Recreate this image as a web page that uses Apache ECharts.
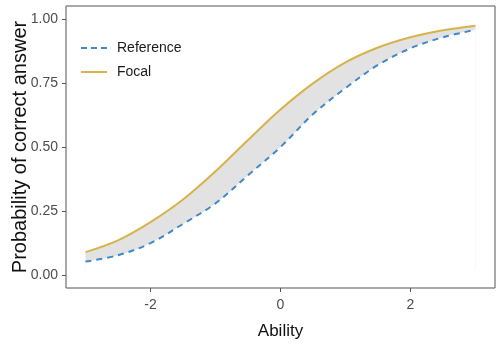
<!DOCTYPE html>
<html>
<head>
<meta charset="utf-8">
<script src="https://cdn.jsdelivr.net/npm/echarts@6/dist/echarts.min.js"></script>
<style>
  html, body { margin: 0; padding: 0; background: #fff; }
  #chart { width: 497px; height: 345px; }
</style>
</head>
<body>
<div id="chart"></div>
<script>
// ability grid and item response probabilities
const ability = [-3, -2.5, -2, -1.5, -1, -0.5, 0, 0.5, 1, 1.5, 2, 2.5, 3]
const referenceProb = [0.053, 0.078, 0.125, 0.2, 0.28, 0.39, 0.5, 0.628, 0.73, 0.82, 0.885, 0.928, 0.957]
const focalProb = [0.09, 0.136, 0.207, 0.295, 0.405, 0.527, 0.646, 0.748, 0.83, 0.888, 0.928, 0.955, 0.973]
const xTicks = [-2, 0, 2]
const yTicks = [0, 0.25, 0.5, 0.75, 1]

const chart = echarts.init(document.getElementById('chart'))

const pairs = arr => ability.map((x, i) => [x, arr[i]])
const blue = '#3f88c9'
const gold = '#d8b24a'
const smooth = 0.35
const font = 'Liberation Sans'

let option = {
  animation: false,
  grid: {
    left: 66,
    right: 2,
    top: 6,
    bottom: 57,
    outerBoundsMode: 'none',
    containLabel: false,
    show: true,
    borderColor: '#555',
    borderWidth: 1,
    backgroundColor: '#fff'
  },
  legend: {
    orient: 'vertical',
    left: 81,
    top: 41,
    padding: 0,
    itemWidth: 26,
    itemHeight: 2,
    itemGap: 10,
    data: [
      { name: 'Reference', icon: 'path://M0,0h6v2h-6z M10,0h6v2h-6z M20,0h6v2h-6z' },
      { name: 'Focal', icon: 'rect' }
    ],
    textStyle: { color: '#1a1a1a', fontSize: 14, fontFamily: font, padding: [0, 0, 0, 5] }
  },
  xAxis: {
    type: 'value',
    min: -3.3,
    max: 3.3,
    name: 'Ability',
    nameLocation: 'middle',
    nameMoveOverlap: false,
    nameGap: 35,
    nameTextStyle: { color: '#111', fontSize: 17, fontFamily: font },
    axisLine: { show: false, onZero: false },
    axisTick: { show: true, length: 4, lineStyle: { color: '#555' }, customValues: xTicks },
    axisLabel: { color: '#4d4d4d', fontSize: 14, margin: 10, fontFamily: font, customValues: xTicks },
    splitLine: { show: false }
  },
  yAxis: {
    type: 'value',
    min: -0.05,
    max: 1.05,
    name: 'Probability of correct answer',
    nameLocation: 'middle',
    nameMoveOverlap: false,
    nameGap: 36,
    nameTextStyle: { color: '#111', fontSize: 20, fontFamily: font },
    axisLine: { show: false, onZero: false },
    axisTick: { show: true, length: 4, lineStyle: { color: '#555' }, customValues: yTicks },
    axisLabel: {
      color: '#4d4d4d', fontSize: 14, margin: 8, fontFamily: font,
      customValues: yTicks,
      formatter: v => v.toFixed(2)
    },
    splitLine: { show: false }
  },
  series: [
    {
      // grey fill under the focal curve
      name: 'focalFill',
      type: 'line',
      data: pairs(focalProb),
      smooth: smooth,
      symbol: 'none',
      lineStyle: { opacity: 0 },
      areaStyle: { color: '#e2e2e2', opacity: 1, origin: 0.02 },
      silent: true
    },
    {
      // white fill under the reference curve leaves only the band grey
      name: 'refFill',
      type: 'line',
      data: pairs(referenceProb),
      smooth: smooth,
      symbol: 'none',
      lineStyle: { opacity: 0 },
      areaStyle: { color: '#fff', opacity: 1, origin: 0 },
      silent: true
    },
    {
      name: 'Focal',
      type: 'line',
      data: pairs(focalProb),
      smooth: smooth,
      symbol: 'none',
      itemStyle: { color: gold },
      lineStyle: { color: gold, width: 2 }
    },
    {
      name: 'Reference',
      type: 'line',
      data: pairs(referenceProb),
      smooth: smooth,
      symbol: 'none',
      itemStyle: { color: blue },
      lineStyle: { color: blue, width: 2, type: [6, 5] }
    }
  ]
}
chart.setOption(option)
</script>
</body>
</html>
